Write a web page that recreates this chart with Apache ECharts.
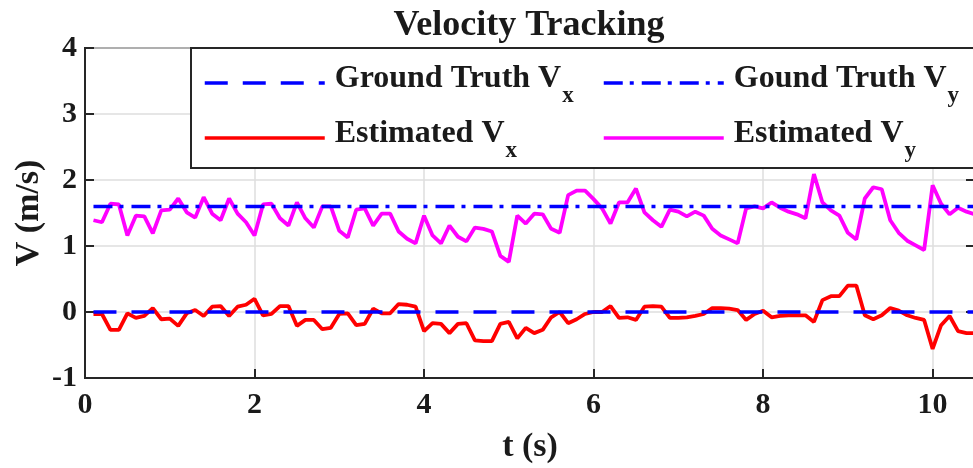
<!DOCTYPE html>
<html>
<head>
<meta charset="utf-8">
<script src="https://cdn.jsdelivr.net/npm/echarts@6/dist/echarts.min.js"></script>
<style>html,body{margin:0;padding:0;background:#fff}#c{width:973px;height:468px}</style>
</head>
<body>
<div id="c"></div>
<script>
var time = [0.1,0.2,0.3,0.4,0.5,0.6,0.7,0.8,0.9,1.0,1.1,1.2,1.3,1.4,1.5,1.6,1.7,1.8,1.9,2.0,
2.1,2.2,2.3,2.4,2.5,2.6,2.7,2.8,2.9,3.0,3.1,3.2,3.3,3.4,3.5,3.6,3.7,3.8,3.9,4.0,
4.1,4.2,4.3,4.4,4.5,4.6,4.7,4.8,4.9,5.0,5.1,5.2,5.3,5.4,5.5,5.6,5.7,5.8,5.9,6.0,
6.1,6.2,6.3,6.4,6.5,6.6,6.7,6.8,6.9,7.0,7.1,7.2,7.3,7.4,7.5,7.6,7.7,7.8,7.9,8.0,
8.1,8.2,8.3,8.4,8.5,8.6,8.7,8.8,8.9,9.0,9.1,9.2,9.3,9.4,9.5,9.6,9.7,9.8,9.9,10.0,
10.1,10.2,10.3,10.4,10.5];
var estVx = [-0.03,-0.03,-0.27,-0.27,-0.02,-0.09,-0.06,0.06,-0.11,-0.10,-0.21,-0.02,0.03,-0.06,0.08,0.09,-0.06,0.08,0.11,0.20,
-0.05,-0.03,0.09,0.09,-0.21,-0.12,-0.12,-0.26,-0.24,-0.03,-0.02,-0.20,-0.18,0.05,-0.02,-0.02,0.12,0.11,0.08,-0.29,
-0.17,-0.18,-0.32,-0.18,-0.17,-0.43,-0.44,-0.44,-0.18,-0.15,-0.40,-0.24,-0.32,-0.27,-0.08,0.00,-0.17,-0.11,-0.03,0.00,
0.00,0.09,-0.09,-0.08,-0.12,0.08,0.09,0.08,-0.09,-0.09,-0.08,-0.06,-0.03,0.06,0.06,0.05,0.03,-0.12,-0.03,0.02,
-0.08,-0.06,-0.05,-0.05,-0.05,-0.15,0.18,0.24,0.24,0.40,0.40,-0.05,-0.11,-0.05,0.06,0.02,-0.05,-0.09,-0.12,-0.56,
-0.20,-0.06,-0.29,-0.32,-0.32];
var estVy = [1.39,1.36,1.64,1.63,1.16,1.46,1.45,1.19,1.54,1.55,1.72,1.51,1.43,1.74,1.49,1.39,1.72,1.49,1.36,1.16,
1.63,1.64,1.42,1.31,1.66,1.42,1.28,1.60,1.60,1.23,1.13,1.55,1.57,1.31,1.49,1.49,1.22,1.11,1.04,1.46,
1.16,1.04,1.31,1.14,1.07,1.28,1.26,1.22,0.85,0.76,1.46,1.34,1.49,1.48,1.26,1.20,1.77,1.84,1.84,1.71,
1.57,1.34,1.66,1.66,1.87,1.51,1.39,1.29,1.55,1.52,1.45,1.52,1.46,1.26,1.16,1.10,1.04,1.57,1.60,1.57,
1.66,1.58,1.52,1.48,1.42,2.09,1.66,1.54,1.46,1.20,1.10,1.72,1.89,1.86,1.39,1.20,1.08,1.01,0.94,1.92,
1.64,1.48,1.58,1.52,1.48];
var gtTime = [0.1, 10.5];
var gtVx = [0, 0];
var gtVy = [1.6, 1.6];
var xTicks = [0, 2, 4, 6, 8, 10];
var yTicks = [-1, 0, 1, 2, 3, 4];

function pairs(xs, ys) { return xs.map(function (x, i) { return [x, ys[i]]; }); }

var FONT = "'Liberation Serif', 'Times New Roman', serif";
var AX = '#262626';
var TXT = '#1a1a1a';

var names = {
  gx: 'Ground Truth V', gy: 'Gound Truth V', ex: 'Estimated V', ey: 'Estimated V'
};
var subs = { gx: 'x', gy: 'y', ex: 'x', ey: 'y' };

var legendRich = {
  a: { fontFamily: FONT, fontWeight: 'bold', fontSize: 32, lineHeight: 34, color: TXT, verticalAlign: 'top', padding: [0, 0, 0, 5] },
  s: { fontFamily: FONT, fontWeight: 'bold', fontSize: 23, lineHeight: 23, color: TXT, verticalAlign: 'top', padding: [22, 0, 0, 1] }
};
function legendFmt(n) { return '{a|' + names[n] + '}{s|' + subs[n] + '}'; }

function tickAxisCommon() {
  return { show: true, inside: true, length: 9, lineStyle: { color: AX, width: 2 } };
}

var chart = echarts.init(document.getElementById('c'), null, { renderer: 'canvas' });
var legendBase = {
  orient: 'vertical', top: 63, padding: 0, itemGap: 10,
  itemWidth: 120, itemHeight: 6, formatter: legendFmt,
  textStyle: { rich: legendRich, padding: [0, 0, 6, 0] }, selectedMode: false, z: 6,
  itemStyle: { opacity: 0, borderWidth: 0 },
  lineStyle: { width: 3.5 }
};
var option = {
  animation: false,
  backgroundColor: '#ffffff',
  grid: { left: 85, top: 48, width: 890, height: 330, show: true, borderColor: AX, borderWidth: 2,
    backgroundColor: 'transparent', outerBoundsMode: 'none', containLabel: false },
  graphic: [
    { type: 'rect', z: 3, shape: { x: 191, y: 48, width: 800, height: 120 },
      style: { fill: '#ffffff', stroke: AX, lineWidth: 2 } },
    { type: 'text', z: 5, x: 529, y: 26,
      style: { text: 'Velocity Tracking', font: 'bold 36px ' + FONT, fill: TXT, textAlign: 'center', textVerticalAlign: 'middle' } }
  ],
  legend: [
    Object.assign({}, legendBase, { data: ['gx', 'ex'], left: 203 }),
    Object.assign({}, legendBase, { data: ['gy', 'ey'], left: 602 })
  ],
  xAxis: [
    { type: 'value', min: 0, max: 10.5, interval: 2, position: 'bottom',
      name: 't (s)', nameLocation: 'middle', nameGap: 52, nameMoveOverlap: false,
      nameTextStyle: { fontFamily: FONT, fontWeight: 'bold', fontSize: 34, color: TXT },
      axisLine: { show: true, onZero: false, lineStyle: { color: AX, width: 2 } },
      axisTick: tickAxisCommon(),
      axisLabel: { margin: 12, fontFamily: FONT, fontWeight: 'bold', fontSize: 30, color: TXT,
        formatter: function (v) { return xTicks.indexOf(v) >= 0 ? String(v) : ''; } },
      splitLine: { show: true, lineStyle: { color: '#dedede', width: 1.5 } } },
    { type: 'value', min: 0, max: 10.5, interval: 2, position: 'top',
      axisLine: { show: false, onZero: false }, axisLabel: { show: false }, splitLine: { show: false },
      axisTick: tickAxisCommon() }
  ],
  yAxis: [
    { type: 'value', min: -1, max: 4, interval: 1, position: 'left',
      name: 'V (m/s)', nameLocation: 'middle', nameGap: 39, nameMoveOverlap: false,
      nameTextStyle: { fontFamily: FONT, fontWeight: 'bold', fontSize: 34, color: TXT },
      axisLine: { show: true, onZero: false, lineStyle: { color: AX, width: 2 } },
      axisTick: tickAxisCommon(),
      axisLabel: { margin: 8, fontFamily: FONT, fontWeight: 'bold', fontSize: 30, color: TXT,
        formatter: function (v) { return yTicks.indexOf(v) >= 0 ? String(v) : ''; } },
      splitLine: { show: true, lineStyle: { color: '#dedede', width: 1.5 } } },
    { type: 'value', min: -1, max: 4, interval: 1, position: 'right',
      axisLine: { show: false, onZero: false }, axisLabel: { show: false }, splitLine: { show: false },
      axisTick: tickAxisCommon() }
  ],
  series: [
    { name: 'ex', type: 'line', data: pairs(time, estVx), symbol: 'none', z: 2,
      lineStyle: { color: '#ff0000', width: 3.8 }, itemStyle: { color: '#ff0000' } },
    { name: 'ey', type: 'line', data: pairs(time, estVy), symbol: 'none', z: 2,
      lineStyle: { color: '#ff00ff', width: 3.8 }, itemStyle: { color: '#ff00ff' } },
    { name: 'gx', type: 'line', data: pairs(gtTime, gtVx), symbol: 'none', z: 3,
      lineStyle: { color: '#0000ff', width: 3.5, type: [23, 15] }, itemStyle: { color: '#0000ff' } },
    { name: 'gy', type: 'line', data: pairs(gtTime, gtVy), symbol: 'none', z: 3,
      lineStyle: { color: '#0000ff', width: 3.5, type: [19, 7, 4, 8] }, itemStyle: { color: '#0000ff' } }
  ]
};
chart.setOption(option);
</script>
</body>
</html>
